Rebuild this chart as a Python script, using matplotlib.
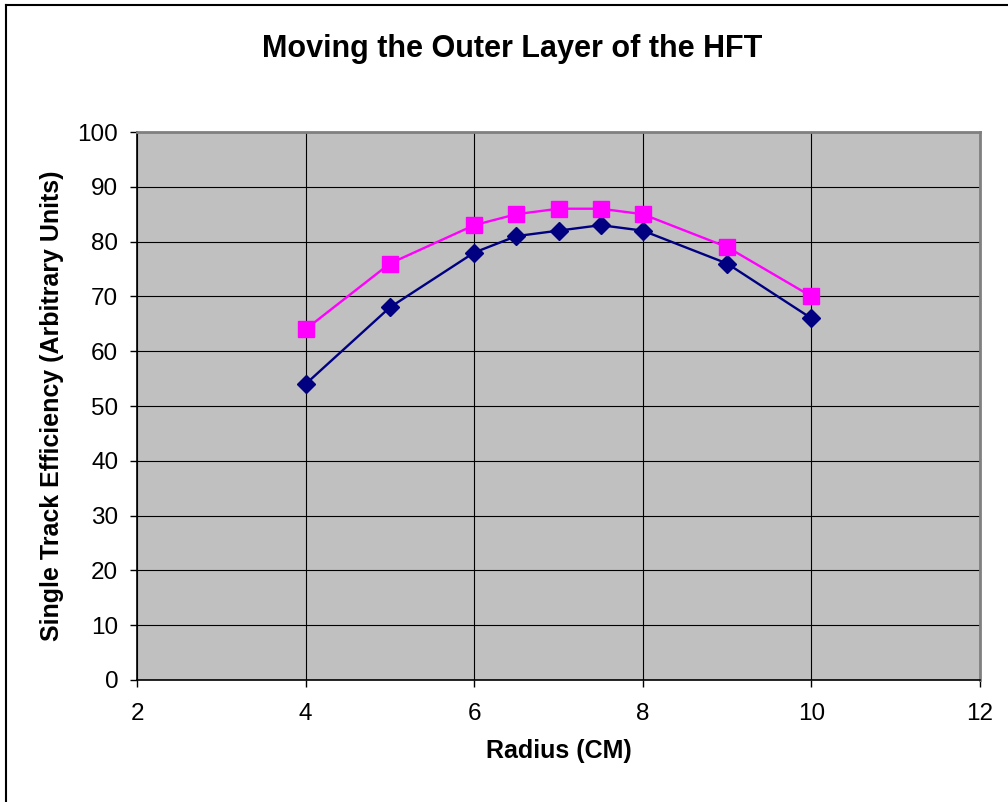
import matplotlib
matplotlib.use('Agg')
import matplotlib.pyplot as plt
from matplotlib.lines import Line2D

plt.rcParams.update({
    "font.family": ["Liberation Sans", "DejaVu Sans"],
    "font.size": 13,
})

# ── Data ───────────────────────────────────────────────────────────────────
radius   = [4, 5, 6, 6.5, 7, 7.5, 8, 9, 10]
eff_blue = [54, 68, 78, 81, 82, 83, 82, 76, 66]
eff_pink = [64, 76, 83, 85, 86, 86, 85, 79, 70]
xticks   = [2, 4, 6, 8, 10, 12]
yticks   = list(range(0, 101, 10))

fig = plt.figure(figsize=(10.08, 8.02), dpi=100)
ax = fig.add_axes([137/1008, 1 - 680/802, (980 - 137)/1008, (680 - 132)/802])
ax.set_facecolor("#C0C0C0")

ax.plot(radius, eff_blue, color="#000080", linewidth=1.7, marker="D",
        markersize=9.5, zorder=3)
ax.plot(radius, eff_pink, color="#FF00FF", linewidth=1.7, marker="s",
        markersize=11, zorder=3)

ax.set_xlim(2, 12)
ax.set_ylim(0, 100)
ax.set_xticks(xticks)
ax.set_yticks(yticks)
ax.grid(True, color="black", linewidth=0.8)
ax.set_axisbelow(True)
ax.tick_params(direction="out", length=5, width=1, labelsize=17.5)
ax.tick_params(axis="x", pad=11.5)
ax.tick_params(axis="y", pad=8.5)

for s in ["left", "bottom"]:
    ax.spines[s].set_color("black")
    ax.spines[s].set_linewidth(1.2)
for s in ["top", "right"]:
    ax.spines[s].set_color("#808080")
    ax.spines[s].set_linewidth(2)

ax.set_xlabel("Radius (CM)", fontsize=18, fontweight="bold", labelpad=10)
ax.set_ylabel("Single Track Efficiency (Arbitrary Units)", fontsize=18,
              fontweight="bold", labelpad=10)
fig.text(512/1008, 1 - 57/802, "Moving the Outer Layer of the HFT",
         fontsize=22, fontweight="bold", ha="center", va="baseline")

# outer chart frame (left and top edges visible)
fig.add_artist(Line2D([6/1008, 6/1008], [0, 1 - 5/802], color="black",
                      linewidth=1.5, transform=fig.transFigure))
fig.add_artist(Line2D([6/1008, 1], [1 - 5/802, 1 - 5/802], color="black",
                      linewidth=1.5, transform=fig.transFigure))

plt.savefig("out.png", dpi=100)
plt.close()
